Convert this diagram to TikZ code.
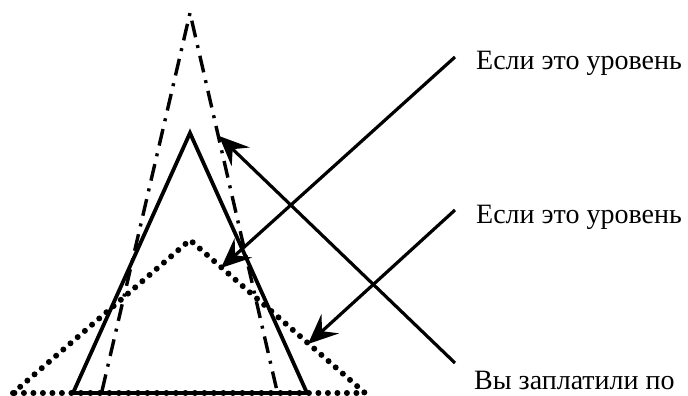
\documentclass[tikz,border=0pt]{standalone}
\usepackage{fontspec}
\setmainfont{Liberation Serif}
\usetikzlibrary{arrows.meta,positioning}
\definecolor{inkblack}{HTML}{000000}

\begin{document}
\begin{tikzpicture}[
    x=1pt, y=-1pt,
    solidtri/.style={draw=inkblack, line width=3.8pt, line join=miter},
    dashdottri/.style={draw=inkblack, line width=3.4pt,
      dash pattern=on 17pt off 8pt on 3pt off 8pt},
    dottedtri/.style={draw=inkblack, line width=6pt, line cap=round,
      dash pattern=on 0pt off 9.5pt},
    arr/.style={-{Stealth[length=30pt,width=26pt,inset=11pt]}, line width=3.2pt, inkblack},
    lbl/.style={font=\fontsize{28}{32}\selectfont, anchor=west, inner sep=0pt, text=inkblack},
  ]
  \useasboundingbox (0,0) rectangle (688,396);

  % =================== TRIANGLES ===================
  % Dotted (widest, lowest)
  \draw[dottedtri] (13,393) -- (190,240) -- (365,393) -- cycle;
  % Dash-dotted (tallest)
  \draw[dashdottri] (102,391) -- (190,13) -- (277,391);
  % Solid
  \draw[solidtri] (73,393) -- (190,133) -- (307,393) -- cycle;

  % =================== LABELS ===================
  \node[lbl] (L1) at (476,63) {Если это уровень};
  \node[lbl] (L2) at (476,217) {Если это уровень};
  \node[lbl] (L3) at (474,380) {Вы заплатили по};

  % Arrow ends
  \coordinate (S1) at (455,57);
  \coordinate (S2) at (455,210);
  \coordinate (S3) at (455,363);
  \coordinate (E1) at (221,268);
  \coordinate (E2) at (308,344);
  \coordinate (E3) at (219,136);

  % =================== ARROWS ===================
  \draw[arr] (S1) -- (E1);
  \draw[arr] (S2) -- (E2);
  \draw[arr] (S3) -- (E3);

\end{tikzpicture}
\end{document}
